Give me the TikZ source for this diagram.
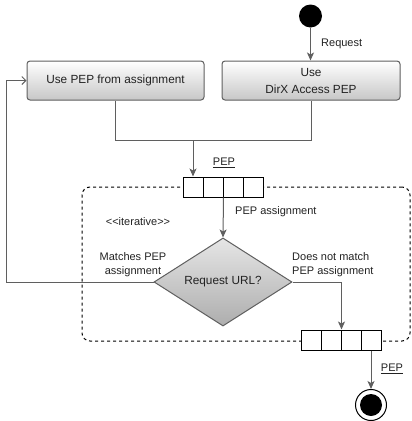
\documentclass[tikz,border=0pt]{standalone}
\usepackage{fontspec}
\setmainfont{Liberation Sans}
\usetikzlibrary{shapes.geometric,arrows.meta}
\definecolor{linec}{HTML}{5F5F5F}
\definecolor{txt}{HTML}{222222}
\begin{document}
\begin{tikzpicture}[x=1pt,y=-1pt,
  every node/.style={text=txt},
  act/.style={draw=linec, line width=1pt, rounded corners=3pt, top color=white, bottom color=black!22,
    minimum width=177pt, minimum height=39pt, inner sep=0pt, align=center,
    font=\fontsize{11.8}{17}\selectfont},
  cell/.style={draw=black, fill=white, minimum width=20pt, minimum height=20pt, inner sep=0pt, line width=1pt},
  lbl/.style={font=\fontsize{11}{14}\selectfont, inner sep=0pt, align=center},
  conn/.style={draw=linec, line width=1pt},
  arr/.style={conn, -{Stealth[length=8pt,width=7pt,inset=2pt]}},
  oarr/.style={conn, -{Straight Barb[length=4pt,width=8pt]}},
  frame/.style={draw=black, line width=1pt, dash pattern=on 3pt off 3pt, rounded corners=8pt,
    minimum width=328pt, minimum height=154pt, inner sep=0pt},
]
\useasboundingbox (0,0) rectangle (412,421);

% dashed region
\node[frame] (region) at (246,264) {};

% start
\node[circle, fill=black, minimum size=23pt, inner sep=0pt] (start) at (310.5,16) {};

% actions
\node[act] (b1) at (115.5,80.5) {Use PEP from assignment};
\node[act, minimum width=178pt] (b2) at (311,80.5) {Use\\DirX Access PEP};

% pin 1
\node[cell] (p1a) at (193,187) {};
\node[cell] (p1b) at (213,187) {};
\node[cell] (p1c) at (233,187) {};
\node[cell] (p1d) at (253,187) {};

% pin 2
\node[cell] (p2a) at (311,340) {};
\node[cell] (p2b) at (331,340) {};
\node[cell] (p2c) at (351,340) {};
\node[cell] (p2d) at (371,340) {};

% decision
\node[diamond, draw=linec, line width=1pt, top color=black!10, bottom color=black!32,
  minimum width=138pt, minimum height=50pt, inner sep=0pt,
  font=\fontsize{11.8}{14}\selectfont] (dec) at (223,282) {Request URL?};

% end
\node[circle, draw=black, line width=1pt, fill=white, minimum size=31pt, inner sep=0pt] (end) at (371,405) {};
\node[circle, fill=black, minimum size=22pt, inner sep=0pt] (endin) at (end.center) {};

% connectors
\draw[arr] (start.south) -- (start.south |- b2.north);
\node[lbl, anchor=west] at (321,44) {Request};

\coordinate (m) at (193,140);
\draw[conn] (b1.south) -- (b1.south |- m) -- (b2.south |- m) -- (b2.south);
\draw[arr] (m) -- (p1a.north);
\node[lbl] at (224,163) {\underline{PEP}};

\draw[arr] (p1b.south east) -- (dec.north);
\node[lbl, anchor=west] at (235,212) {PEP assignment};

\node[lbl, font=\fontsize{11}{13}\selectfont] at (138,222) {<\kern0pt<iterative>\kern0pt>};

\draw[oarr] (dec.west) -- ++(-147,0) |- (b1.west);
\node[lbl] at (133,265) {Matches PEP\\assignment};

\draw[arr] (dec.east) -| (p2b.north east);
\node[lbl, anchor=west, align=left] at (292,265) {Does not match\\PEP assignment};

\draw[arr] (p2d.south) -- (end.north);
\node[lbl] at (392,369) {\underline{PEP}};
\end{tikzpicture}
\end{document}
